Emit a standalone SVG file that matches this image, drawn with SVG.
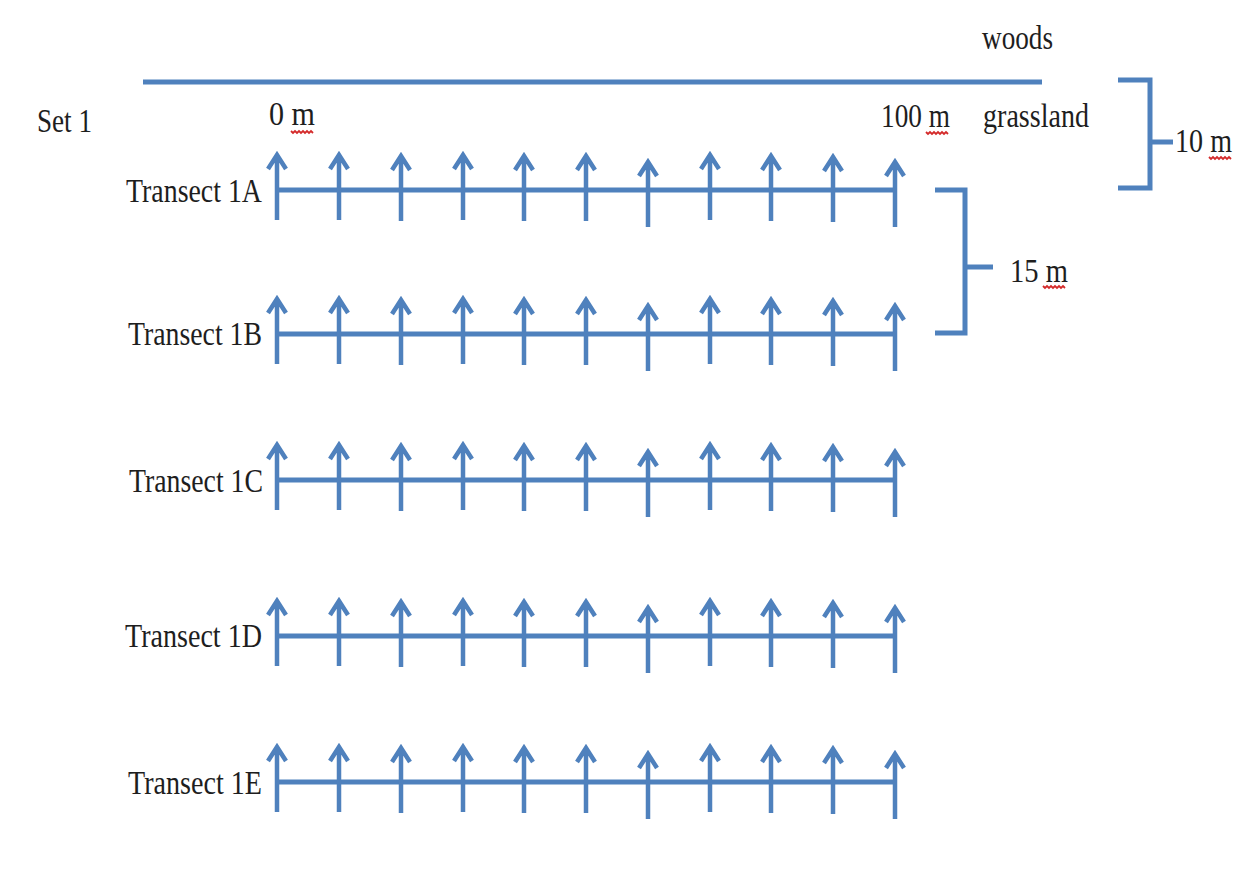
<svg xmlns="http://www.w3.org/2000/svg" xmlns:xlink="http://www.w3.org/1999/xlink" width="1244" height="890" viewBox="0 0 1244 890">
<style>
.t{font-family:"Liberation Serif","Times New Roman",serif;font-size:34px;fill:#1e1e1e}
.ln{stroke:#4f81bd;stroke-width:5;fill:none;stroke-linecap:butt}
.ar{stroke:#4f81bd;stroke-width:4.5;fill:none;stroke-linejoin:miter}
.sq{stroke:#d42a2a;stroke-width:1.8;fill:none}
</style>
<defs>
<g id="arr"><path class="ar" d="M0,-35 L0,30 M-9,-21 L0,-35 L9,-21"/></g>
<g id="row">
<line class="ln" x1="277" y1="0" x2="896" y2="0"/>
<use xlink:href="#arr" href="#arr" x="277" y="0"/>
<use xlink:href="#arr" href="#arr" x="339" y="0"/>
<use xlink:href="#arr" href="#arr" x="401" y="1"/>
<use xlink:href="#arr" href="#arr" x="463" y="0"/>
<use xlink:href="#arr" href="#arr" x="524" y="1"/>
<use xlink:href="#arr" href="#arr" x="586" y="1"/>
<use xlink:href="#arr" href="#arr" x="648" y="7"/>
<use xlink:href="#arr" href="#arr" x="710" y="0"/>
<use xlink:href="#arr" href="#arr" x="771" y="1"/>
<use xlink:href="#arr" href="#arr" x="833" y="2"/>
<use xlink:href="#arr" href="#arr" x="895" y="7"/>
</g>
<path id="squig" class="sq" d="M0,0 l2,2 l2,-2 l2,2 l2,-2 l2,2 l2,-2 l2,2 l2,-2 l2,2 l2,-2 l2,2"/>
</defs>
<rect width="1244" height="890" fill="#ffffff"/>

<g id="boundary">
<line class="ln" x1="143" y1="82" x2="1042" y2="82"/>
<text class="t" x="982" y="49" textLength="71" lengthAdjust="spacingAndGlyphs">woods</text>
<text class="t" x="983" y="127" textLength="106" lengthAdjust="spacingAndGlyphs">grassland</text>
</g>

<g id="set-label">
<text class="t" x="37" y="132" textLength="55" lengthAdjust="spacingAndGlyphs">Set 1</text>
</g>

<g id="scale-labels">
<text class="t" x="269" y="125" textLength="46" lengthAdjust="spacingAndGlyphs">0 m</text>
<use xlink:href="#squig" href="#squig" x="291" y="131"/>
<text class="t" x="881" y="127" textLength="69" lengthAdjust="spacingAndGlyphs">100 m</text>
<use xlink:href="#squig" href="#squig" x="926" y="132"/>
</g>

<g id="transect-1A">
<use xlink:href="#row" href="#row" y="190"/>
<text class="t" x="126" y="202" textLength="136" lengthAdjust="spacingAndGlyphs">Transect 1A</text>
</g>
<g id="transect-1B">
<use xlink:href="#row" href="#row" y="334"/>
<text class="t" x="128" y="345" textLength="134" lengthAdjust="spacingAndGlyphs">Transect 1B</text>
</g>
<g id="transect-1C">
<use xlink:href="#row" href="#row" y="480"/>
<text class="t" x="129" y="492" textLength="134" lengthAdjust="spacingAndGlyphs">Transect 1C</text>
</g>
<g id="transect-1D">
<use xlink:href="#row" href="#row" y="636"/>
<text class="t" x="125" y="647" textLength="137" lengthAdjust="spacingAndGlyphs">Transect 1D</text>
</g>
<g id="transect-1E">
<use xlink:href="#row" href="#row" y="782"/>
<text class="t" x="128" y="794" textLength="134" lengthAdjust="spacingAndGlyphs">Transect 1E</text>
</g>

<g id="connectors">
<g id="bracket-10m">
<path class="ln" d="M1118,80 H1150 V188 H1118"/>
<line class="ln" x1="1150" y1="142" x2="1173" y2="142"/>
</g>
<g id="bracket-15m">
<path class="ln" d="M935,190 H965 V333 H935"/>
<line class="ln" x1="965" y1="267" x2="993" y2="267"/>
</g>
</g>

<g id="distance-labels">
<text class="t" x="1175" y="152" textLength="57" lengthAdjust="spacingAndGlyphs">10 m</text>
<use xlink:href="#squig" href="#squig" x="1209" y="157"/>
<text class="t" x="1010" y="282" textLength="58" lengthAdjust="spacingAndGlyphs">15 m</text>
<use xlink:href="#squig" href="#squig" x="1043" y="286"/>
</g>
</svg>
